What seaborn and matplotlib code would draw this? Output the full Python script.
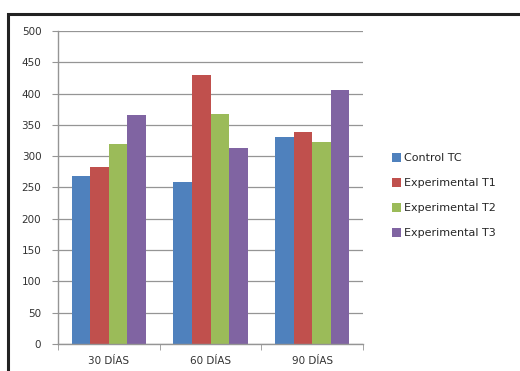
import matplotlib
matplotlib.use("Agg")
import matplotlib.pyplot as plt
import seaborn as sns
import pandas as pd
from matplotlib.patches import Rectangle

categories = ["30 DÍAS", "60 DÍAS", "90 DÍAS"]
series = ["Control TC", "Experimental T1", "Experimental T2", "Experimental T3"]
control_tc = [269, 258, 330]
exp_t1 = [282, 430, 338]
exp_t2 = [319, 368, 322]
exp_t3 = [366, 313, 405]
colors = ["#4F81BD", "#C0504D", "#9BBB59", "#8064A2"]

rows = []
for name, vals in zip(series, [control_tc, exp_t1, exp_t2, exp_t3]):
    for c, v in zip(categories, vals):
        rows.append({"cat": c, "serie": name, "val": v})
df = pd.DataFrame(rows)

sns.set_style("white")
plt.rcParams["font.family"] = ["DejaVu Sans"]

fig = plt.figure(figsize=(5.2, 3.71), dpi=100)
ax = fig.add_axes([58/520, 27/371, 305/520, 313/371])

sns.barplot(data=df, x="cat", y="val", hue="serie", palette=colors,
            width=0.73, gap=0, ax=ax, saturation=1, edgecolor="none",
            linewidth=0, legend=True)

ax.set_ylim(0, 500)
ax.set_xlim(-0.5, 2.5)
ax.set_yticks(range(0, 501, 50))
ax.yaxis.grid(True, color="#959595", linewidth=0.9)
ax.set_axisbelow(True)
for s in ["top", "right"]:
    ax.spines[s].set_visible(False)
for s in ["left", "bottom"]:
    ax.spines[s].set_color("#959595")
    ax.spines[s].set_linewidth(1.0)
ax.set_xlabel("")
ax.set_ylabel("")
ax.tick_params(axis="y", length=4, color="#959595", labelsize=7.5,
               labelcolor="#333333", left=True, pad=8)
ax.tick_params(axis="x", which="major", length=0, labelsize=7.5,
               labelcolor="#333333", pad=9)
ax.set_xticks([-0.5, 0.5, 1.5, 2.5], minor=True)
ax.tick_params(axis="x", which="minor", length=4, color="#959595",
               bottom=True, direction="out")

leg = ax.get_legend()
handles, labels = ax.get_legend_handles_labels()
leg.remove()
fig.legend(handles, labels, loc="center left",
           bbox_to_anchor=(392/520, (371-195.5)/371), frameon=False,
           fontsize=8, handlelength=0.85, handleheight=0.85,
           handletextpad=0.25, labelspacing=1.32, borderpad=0,
           borderaxespad=0)

fig.patches.append(Rectangle((8/520, -0.05), 1.2, (371-14)/371 + 0.05,
                             transform=fig.transFigure, fill=False,
                             edgecolor="#222222", linewidth=2.2,
                             figure=fig))

fig.savefig("out.png", dpi=100)
